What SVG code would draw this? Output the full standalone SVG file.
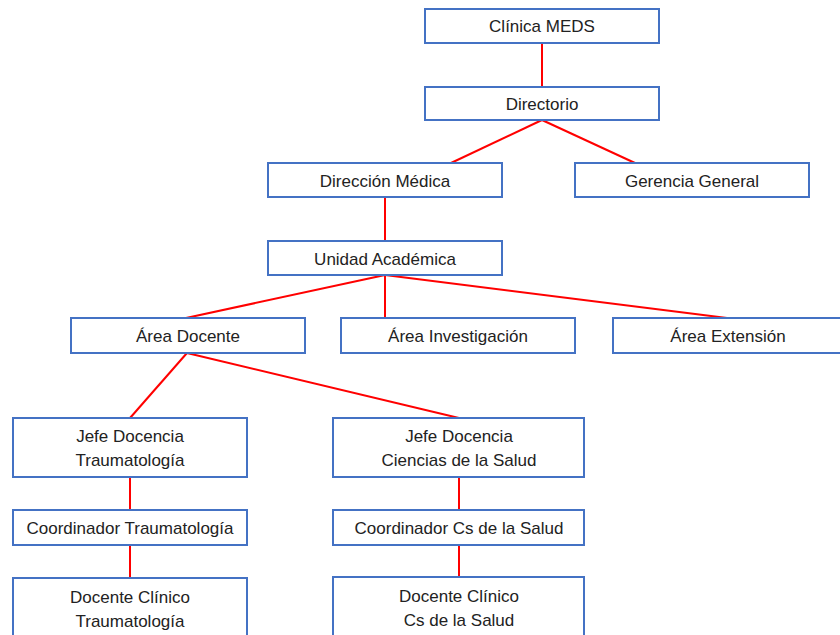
<svg xmlns="http://www.w3.org/2000/svg" width="840" height="635" viewBox="0 0 840 635">
<style>
.box{fill:#fff;stroke:#4472C4;stroke-width:2}
.lbl{font-family:"Liberation Sans","Open Sans",sans-serif;font-size:17px;fill:#222;text-anchor:middle}
.conn line{stroke:#FF0000;stroke-width:2}
</style>
<rect width="840" height="635" fill="#fff"/>
<g class="conn" id="connectors">
<line x1="542" y1="43" x2="542" y2="87"/>
<line x1="542" y1="120" x2="451" y2="163"/>
<line x1="542" y1="120" x2="635" y2="163"/>
<line x1="385" y1="197" x2="385" y2="241"/>
<line x1="385" y1="275" x2="186" y2="318"/>
<line x1="385" y1="275" x2="385" y2="318"/>
<line x1="385" y1="275" x2="727" y2="318"/>
<line x1="187" y1="353" x2="130" y2="418"/>
<line x1="187" y1="353" x2="459" y2="418"/>
<line x1="130" y1="477" x2="130" y2="510"/>
<line x1="130" y1="545" x2="130" y2="578"/>
<line x1="459" y1="477" x2="459" y2="510"/>
<line x1="459" y1="545" x2="459" y2="577"/>
</g>
<g id="clinica"><rect class="box" x="425" y="9" width="234" height="34"/><text class="lbl" x="542" y="32">Clínica MEDS</text></g>
<g id="directorio"><rect class="box" x="425" y="87" width="234" height="33"/><text class="lbl" x="542" y="110">Directorio</text></g>
<g id="direccion"><rect class="box" x="268" y="163" width="234" height="34"/><text class="lbl" x="385" y="187">Dirección Médica</text></g>
<g id="gerencia"><rect class="box" x="575" y="163" width="234" height="34"/><text class="lbl" x="692" y="187">Gerencia General</text></g>
<g id="unidad"><rect class="box" x="268" y="241" width="234" height="34"/><text class="lbl" x="385" y="265">Unidad Académica</text></g>
<g id="area-docente"><rect class="box" x="71" y="318" width="234" height="35"/><text class="lbl" x="188" y="342">Área Docente</text></g>
<g id="area-investigacion"><rect class="box" x="341" y="318" width="234" height="35"/><text class="lbl" x="458" y="342">Área Investigación</text></g>
<g id="area-extension"><rect class="box" x="613" y="318" width="234" height="35"/><text class="lbl" x="728" y="342">Área Extensión</text></g>
<g id="jefe-trauma"><rect class="box" x="13" y="418" width="234" height="59"/><text class="lbl" x="130" y="442">Jefe Docencia</text><text class="lbl" x="130" y="466">Traumatología</text></g>
<g id="jefe-salud"><rect class="box" x="333" y="418" width="251" height="59"/><text class="lbl" x="459" y="442">Jefe Docencia</text><text class="lbl" x="459" y="466">Ciencias de la Salud</text></g>
<g id="coord-trauma"><rect class="box" x="13" y="510" width="234" height="35"/><text class="lbl" x="130" y="534">Coordinador Traumatología</text></g>
<g id="coord-salud"><rect class="box" x="333" y="510" width="251" height="35"/><text class="lbl" x="459" y="534">Coordinador Cs de la Salud</text></g>
<g id="docente-trauma"><rect class="box" x="13" y="578" width="234" height="62"/><text class="lbl" x="130" y="603">Docente Clínico</text><text class="lbl" x="130" y="627">Traumatología</text></g>
<g id="docente-salud"><rect class="box" x="333" y="577" width="251" height="63"/><text class="lbl" x="459" y="602">Docente Clínico</text><text class="lbl" x="459" y="626">Cs de la Salud</text></g>
</svg>
